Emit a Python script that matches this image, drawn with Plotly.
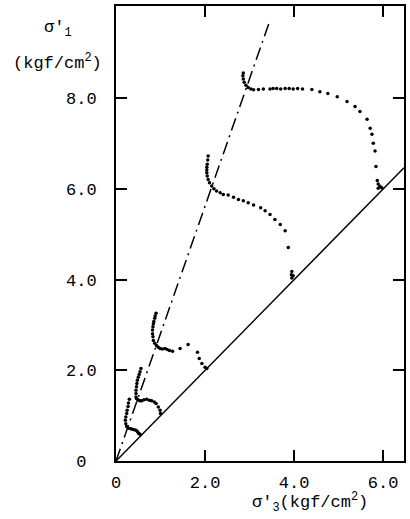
import plotly.graph_objects as go

# ---- data (sigma'_3, sigma'_1 in kgf/cm2) ----
c0_x = [0.30, 0.28, 0.27, 0.25, 0.24, 0.22, 0.21, 0.22, 0.24, 0.28, 0.33, 0.37, 0.41, 0.45, 0.48, 0.50, 0.52, 0.54]
c0_y = [1.36, 1.28, 1.20, 1.12, 1.05, 0.97, 0.90, 0.82, 0.76, 0.72, 0.71, 0.70, 0.69, 0.68, 0.65, 0.62, 0.60, 0.59]

c1_x = [0.56, 0.54, 0.52, 0.50, 0.48, 0.47, 0.46, 0.45, 0.45, 0.45, 0.46, 0.48, 0.50, 0.54, 0.58, 0.63, 0.69, 0.75, 0.80, 0.86, 0.90, 0.95, 0.99, 1.00]
c1_y = [2.04, 1.97, 1.91, 1.85, 1.78, 1.71, 1.64, 1.56, 1.49, 1.41, 1.38, 1.36, 1.34, 1.33, 1.33, 1.35, 1.36, 1.34, 1.33, 1.30, 1.27, 1.19, 1.12, 1.05]

c2_x = [0.90, 0.88, 0.87, 0.85, 0.84, 0.83, 0.82, 0.82, 0.83, 0.84, 0.87, 0.91, 0.95, 0.99, 1.04, 1.10, 1.15, 1.20, 1.27, 1.44, 1.62, 1.83, 1.87, 1.93, 2.00, 2.04]
c2_y = [3.26, 3.20, 3.15, 3.08, 3.03, 2.96, 2.89, 2.81, 2.74, 2.66, 2.60, 2.55, 2.51, 2.48, 2.47, 2.48, 2.46, 2.44, 2.42, 2.48, 2.57, 2.40, 2.26, 2.15, 2.07, 2.04]

c3_x = [2.07, 2.06, 2.05, 2.04, 2.04, 2.04, 2.05, 2.07, 2.10, 2.15, 2.20, 2.26, 2.34, 2.41, 2.52, 2.64, 2.75, 2.86, 2.97,
        3.09, 3.25, 3.35, 3.46, 3.57, 3.69, 3.80, 3.87, 3.95, 3.94, 3.95, 3.98]
c3_y = [6.73, 6.64, 6.55, 6.48, 6.42, 6.36, 6.29, 6.21, 6.14, 6.07, 6.01, 5.96, 5.92, 5.88, 5.87, 5.82, 5.77, 5.74, 5.70,
        5.65, 5.59, 5.52, 5.44, 5.33, 5.22, 5.08, 4.71, 4.18, 4.11, 4.04, 4.09]

c4_x = [2.86, 2.85, 2.86, 2.88, 2.92, 2.97, 3.03, 3.09, 3.20, 3.31, 3.46, 3.53, 3.61, 3.70, 3.80, 3.89, 3.98, 4.08, 4.19, 4.40,
        4.58, 4.76, 4.97, 5.19, 5.37, 5.48, 5.64, 5.71, 5.75, 5.78, 5.82, 5.84, 5.87, 5.89, 5.89, 5.93, 5.97]
c4_y = [8.56, 8.50, 8.43, 8.36, 8.29, 8.24, 8.21, 8.19, 8.20, 8.21, 8.21, 8.22, 8.22, 8.21, 8.22, 8.22, 8.21, 8.22, 8.21, 8.20,
        8.15, 8.11, 8.04, 7.93, 7.82, 7.71, 7.54, 7.34, 7.21, 7.01, 6.84, 6.50, 6.19, 6.11, 6.02, 6.06, 6.03]

# reference lines
k0_x = [0.0, 6.47]          # sigma1 = sigma3
k0_y = [0.0, 6.47]
kp_x = [0.0, 3.45]          # dash-dot line
kp_y = [0.0, 9.70]

x_ticks = [0, 2, 4, 6]
x_labels = ["0", "2.0", "4.0", "6.0"]
y_ticks = [0, 2, 4, 6, 8]
y_labels = ["0\u00a0", "2.0", "4.0", "6.0", "8.0"]

FONT = "Liberation Mono, DejaVu Sans Mono, monospace"

fig = go.Figure()
fig.add_trace(go.Scatter(x=k0_x, y=k0_y, mode="lines", line=dict(color="black", width=1.5), showlegend=False))
fig.add_trace(go.Scatter(x=kp_x, y=kp_y, mode="lines", line=dict(color="black", width=1.5, dash="13px,5px,2px,5px"),
                         showlegend=False))
for cx, cy in [(c0_x, c0_y), (c1_x, c1_y), (c2_x, c2_y), (c3_x, c3_y), (c4_x, c4_y)]:
    fig.add_trace(go.Scatter(x=cx, y=cy, mode="markers", marker=dict(color="black", size=3.5), showlegend=False))

axis_common = dict(showline=True, linewidth=2, linecolor="black", mirror="ticks", ticks="inside",
                   ticklen=11, tickwidth=1.5, tickcolor="black", showgrid=False, zeroline=False,
                   tickfont=dict(family=FONT, size=17, color="black"))

fig.update_xaxes(range=[0, 6.47], tickvals=x_ticks, ticktext=x_labels, ticklabelstandoff=5, **axis_common)
fig.update_yaxes(range=[0, 10.04], tickvals=y_ticks, ticktext=y_labels, ticklabelstandoff=14, **axis_common)

title_font = dict(family=FONT, size=17, color="black")
fig.update_layout(
    width=410, height=519,
    margin=dict(l=116, r=6, t=4, b=58),
    paper_bgcolor="white", plot_bgcolor="white",
)
fig.add_annotation(x=-58 / 288, y=1 - 23 / 457, xref="paper", yref="paper", text="σ'<sub>1</sub>",
                   showarrow=False, xanchor="center", yanchor="middle", font=title_font)
fig.add_annotation(x=-59 / 288, y=1 - 56 / 457, xref="paper", yref="paper", text="(kgf/cm<sup>2</sup>)",
                   showarrow=False, xanchor="center", yanchor="middle", font=title_font)
fig.add_annotation(x=(310 - 116) / 288, y=-(503 - 461) / 457, xref="paper", yref="paper",
                   text="σ'<sub>3</sub>(kgf/cm<sup>2</sup>)", showarrow=False,
                   xanchor="center", yanchor="middle", font=title_font)

fig.write_html("out.html")
